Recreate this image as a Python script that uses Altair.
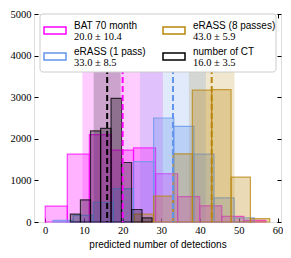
import altair as alt
import pandas as pd

# ---- data ----
series_names = ["BAT 70 month", "eRASS (8 passes)", "eRASS (1 pass)", "number of CT"]
series_stats = ["20.0 ± 10.4", "43.0 ± 5.9", "33.0 ± 8.5", "16.0 ± 3.5"]
series_colors = ["#ff00ff", "#b8860b", "#6495ed", "#000000"]
draw_order = [0, 2, 1, 3]  # BAT, eRASS1, eRASS8, CT

means = [20.0, 43.0, 33.0, 16.0]
stds = [10.4, 5.9, 8.5, 3.5]

bat_edges = [0, 5.7, 11.4, 17.1, 22.8, 28.5, 34.2, 39.9, 45.6, 51.3, 57.0]
bat_counts = [380, 1630, 2100, 1730, 1780, 1160, 610, 390, 135, 40]

e1_edges = [2, 7.2, 12.4, 17.6, 22.8, 28.0, 33.2, 38.4, 43.6, 48.8, 54.0]
e1_counts = [40, 160, 470, 800, 1450, 2500, 2300, 1630, 580, 100]

e8_edges = [23, 28, 33, 38, 43, 48, 53, 58]
e8_counts = [190, 620, 1640, 3170, 3180, 1080, 80]

ct_edges = [6.5, 9.1, 11.7, 14.3, 17.0, 19.7, 22.3, 25.0, 27.6]
ct_counts = [190, 530, 2190, 2250, 2970, 1430, 300, 100]

x_ticks = [0, 10, 20, 30, 40, 50, 60]
y_ticks = [0, 1000, 2000, 3000, 4000, 5000]

all_edges = [bat_edges, e8_edges, e1_edges, ct_edges]
all_counts = [bat_counts, e8_counts, e1_counts, ct_counts]

rows = []
for k, i in enumerate(draw_order):
    e, c = all_edges[i], all_counts[i]
    for j in range(len(c)):
        rows.append({"series": series_names[i], "lo": e[j], "hi": e[j + 1],
                     "count": c[j], "order": k})
hist_df = pd.DataFrame(rows)

band_df = pd.DataFrame({
    "series": series_names,
    "mean": means,
    "lo": [m - s for m, s in zip(means, stds)],
    "hi": [m + s for m, s in zip(means, stds)],
})
legend_df = pd.DataFrame({"series": series_names, "stats": series_stats})
one_df = pd.DataFrame({"k": [0]})

W, H = 247, 208
xscale = alt.Scale(domain=[-2.9, 60.9], nice=False, zero=False)
yscale = alt.Scale(domain=[0, 5000], nice=False)
cscale = alt.Scale(domain=series_names, range=series_colors)

axis_common = dict(domain=False, tickSize=4, offset=-4, tickColor="#000000",
                   tickWidth=1, grid=False, labelFont="Liberation Serif",
                   labelFontSize=10.5, labelColor="#000000", labelPadding=3, format="d")

xaxis = alt.Axis(values=x_ticks, title="predicted number of detections",
                 titleFont="Liberation Sans", titleFontSize=10, titleFontWeight="normal",
                 titleColor="#000000", titlePadding=4, **axis_common)
yaxis = alt.Axis(values=y_ticks, title=None, **axis_common)
xaxis_top = alt.Axis(orient="top", values=x_ticks, labels=False, title=None, domain=False,
                     tickSize=4, offset=-4, tickColor="#000000", grid=False)
yaxis_right = alt.Axis(orient="right", values=y_ticks, labels=False, title=None, domain=False,
                       tickSize=4, offset=-4, tickColor="#000000", grid=False)

bands = alt.Chart(band_df).mark_rect(opacity=0.2).encode(
    x=alt.X("lo:Q", scale=xscale, axis=xaxis),
    x2="hi:Q",
    fill=alt.Fill("series:N", scale=cscale, legend=None),
)

hist = alt.Chart(hist_df).mark_rect(fillOpacity=0.3, strokeOpacity=0.75, strokeWidth=1.2).encode(
    x=alt.X("lo:Q", scale=xscale, axis=None),
    x2="hi:Q",
    y=alt.Y("count:Q", scale=yscale, axis=yaxis),
    y2=alt.datum(0),
    fill=alt.Fill("series:N", scale=cscale, legend=None),
    stroke=alt.Stroke("series:N", scale=cscale, legend=None),
    order=alt.Order("order:Q"),
)

rules = alt.Chart(band_df).mark_rule(strokeDash=[6, 3], strokeWidth=2).encode(
    x=alt.X("mean:Q", scale=xscale, axis=None),
    stroke=alt.Stroke("series:N", scale=cscale, legend=None),
)

frame_axes = alt.Chart(hist_df).mark_rect(opacity=0).encode(
    x=alt.X("lo:Q", scale=xscale, axis=xaxis_top),
    x2="hi:Q",
    y=alt.Y("count:Q", scale=yscale, axis=yaxis_right),
)

# ---- legend (drawn in pixel space) ----
leg_layers = [
    alt.Chart(one_df).mark_rect(fill="white", fillOpacity=1, stroke="#cccccc",
                                strokeWidth=1, cornerRadius=3).encode(
        x=alt.value(6), x2=alt.value(242), y=alt.value(0), y2=alt.value(58))
]
col_x = [10, 129]
row_y = [13, 39]
for i, name in enumerate(series_names):
    cx = col_x[i % 2]
    ry = row_y[i // 2]
    sub = alt.Chart(legend_df).transform_filter(alt.datum.series == name)
    leg_layers.append(sub.mark_rect(fill="white", stroke=series_colors[i], strokeWidth=1.5).encode(
        x=alt.value(cx), x2=alt.value(cx + 22), y=alt.value(ry), y2=alt.value(ry + 7)))
    leg_layers.append(sub.mark_text(align="left", baseline="alphabetic", font="Liberation Sans",
                                    fontSize=10, color="#000000").encode(
        x=alt.value(cx + 30), y=alt.value(ry + 2), text="series:N"))
    leg_layers.append(sub.mark_text(align="left", baseline="alphabetic", font="Liberation Serif",
                                    fontSize=10.5, color="#000000").encode(
        x=alt.value(cx + 30), y=alt.value(ry + 13), text="stats:N"))

chart = alt.layer(bands, hist, rules, frame_axes, *leg_layers).resolve_axis(
    x="independent", y="independent"
).resolve_scale(x="shared", y="shared").properties(
    width=W, height=H,
    autosize=alt.AutoSizeParams(type="none"),
    padding={"left": 26, "top": 6, "right": 2, "bottom": 28},
).configure_view(stroke="#000000", strokeWidth=1).configure(background="white")

chart.save("out.html", embed_options={"renderer": "svg", "actions": False})
